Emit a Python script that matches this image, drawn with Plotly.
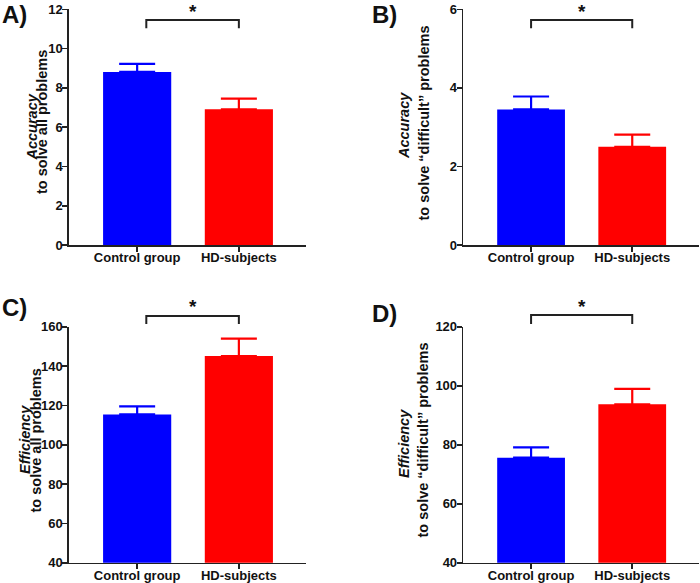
import plotly.graph_objects as go

# ---------------- data ----------------
categories = ["Control group", "HD-subjects"]
colors = ["#0000FF", "#FF0000"]

acc_all = [8.81, 6.91]
acc_all_sem = [0.41, 0.54]
acc_diff = [3.45, 2.50]
acc_diff_sem = [0.33, 0.31]
eff_all = [115.4, 145.1]
eff_all_sem = [4.1, 8.8]
eff_diff = [75.6, 93.7]
eff_diff_sem = [3.5, 5.2]

W, H = 700, 583
FONT = "Liberation Sans, Arial, sans-serif"
AX = "#222222"

panels = [
    dict(key="", vals=acc_all, sem=acc_all_sem, rng=[0, 12], dtick=2,
         xpx=[69, 306], ypx=[9.3, 245], label="A)", lab_xy=(14, 14.5),
         t1="<b><i>Accuracy</i></b>", t2="<b>to solve all problems</b>",
         t1xy=(31.5, 127), t2xy=(42, 122),
         br=dict(x0=0.09, x1=1.0, ytop=11.46, ybot=11.03), star_top=0),
    dict(key="2", vals=acc_diff, sem=acc_diff_sem, rng=[0, 6], dtick=2,
         xpx=[463.3, 699], ypx=[9.3, 245], label="B)", lab_xy=(384, 14.5),
         t1="<b><i>Accuracy</i></b>", t2="<b>to solve \u201cdifficult\u201d problems</b>",
         t1xy=(404, 126), t2xy=(423.5, 123),
         br=dict(x0=0.0, x1=1.0, ytop=5.73, ybot=5.52), star_top=0),
    dict(key="3", vals=eff_all, sem=eff_all_sem, rng=[40, 160], dtick=20,
         xpx=[69, 306], ypx=[326.7, 562.7], label="C)", lab_xy=(14, 307),
         t1="<b><i>Efficiency</i></b>", t2="<b>to solve all problems</b>",
         t1xy=(25, 440), t2xy=(35.5, 441),
         br=dict(x0=0.09, x1=1.0, ytop=165.4, ybot=161.4), star_top=295),
    dict(key="4", vals=eff_diff, sem=eff_diff_sem, rng=[40, 120], dtick=20,
         xpx=[463.3, 699], ypx=[326.7, 562.7], label="D)", lab_xy=(384, 313),
         t1="<b><i>Efficiency</i></b>", t2="<b>to solve \u201cdifficult\u201d problems</b>",
         t1xy=(404, 444), t2xy=(422.5, 440),
         br=dict(x0=0.0, x1=1.0, ytop=124.0, ybot=120.9), star_top=295),
]

XR = [-0.67, 1.66]

fig = go.Figure()
shapes = []
annotations = []


def px_x(p):
    return p / W


def px_y(p):
    return 1 - p / H


for p in panels:
    k = p["key"]
    xa = "x" + k
    ya = "y" + k
    xdom = [px_x(p["xpx"][0]), px_x(p["xpx"][1])]
    ydom = [px_y(p["ypx"][1]), px_y(p["ypx"][0])]
    for i, cat in enumerate(categories):
        fig.add_trace(go.Bar(
            x=[cat], y=[p["vals"][i]], xaxis=xa, yaxis=ya,
            marker=dict(color=colors[i], line=dict(width=0)),
            width=0.67,
            error_y=dict(type="data", array=[p["sem"][i]], arrayminus=[0],
                         symmetric=False, color=colors[i], thickness=2.2, width=18),
            showlegend=False, hoverinfo="skip",
        ))
    fig.layout["xaxis" + k] = dict(
        domain=xdom, anchor=ya, type="category", range=XR,
        categoryorder="array", categoryarray=categories,
        showline=True, linecolor=AX, linewidth=1.6, ticks="outside",
        ticklen=5, tickwidth=1.6, tickcolor=AX, showgrid=False, zeroline=False,
        tickfont=dict(family=FONT, size=13, color="#111", weight="bold"),
        ticklabelstandoff=-5, fixedrange=True, automargin=False,
    )
    fig.layout["yaxis" + k] = dict(
        domain=ydom, anchor=xa, range=p["rng"], dtick=p["dtick"], tick0=0,
        showline=True, linecolor=AX, linewidth=1.6, ticks="outside",
        ticklen=5, tickwidth=1.6, tickcolor=AX, showgrid=False, zeroline=False,
        tickfont=dict(family=FONT, size=13, color="#111", weight="bold"),
        ticklabelstandoff=-3, fixedrange=True, automargin=False,
    )

    def dx(v, xdom=xdom):
        return xdom[0] + (v - XR[0]) / (XR[1] - XR[0]) * (xdom[1] - xdom[0])

    def dy(v, ydom=ydom, rng=p["rng"]):
        return ydom[0] + (v - rng[0]) / (rng[1] - rng[0]) * (ydom[1] - ydom[0])

    br = p["br"]
    x0, x1 = dx(br["x0"]), dx(br["x1"])
    yt, yb = dy(br["ytop"]), dy(br["ybot"])
    shapes.append(dict(
        type="path", xref="paper", yref="paper",
        path=f"M {x0} {yb} L {x0} {yt} L {x1} {yt} L {x1} {yb}",
        line=dict(color=AX, width=2),
    ))
    annotations.append(dict(
        x=(x0 + x1) / 2, y=px_y(p["star_top"]), xref="paper", yref="paper",
        text="<b>*</b>", showarrow=False, xanchor="center", yanchor="top",
        borderpad=0, font=dict(family=FONT, size=19, color="#111"),
    ))
    annotations.append(dict(
        x=px_x(p["lab_xy"][0]), y=px_y(p["lab_xy"][1]), xref="paper", yref="paper",
        text="<b>" + p["label"] + "</b>", showarrow=False, xanchor="center",
        yanchor="middle", font=dict(family=FONT, size=24, color="#111"),
    ))
    for t, xy in ((p["t1"], p["t1xy"]), (p["t2"], p["t2xy"])):
        annotations.append(dict(
            x=px_x(xy[0]), y=px_y(xy[1]), xref="paper", yref="paper",
            text=t, showarrow=False, textangle=-90, xanchor="center",
            yanchor="middle", font=dict(family=FONT, size=14.5, color="#111"),
        ))

fig.update_layout(
    width=W, height=H, margin=dict(l=0, r=0, t=0, b=0, pad=0, autoexpand=False),
    paper_bgcolor="white", plot_bgcolor="white",
    barmode="overlay", shapes=shapes, annotations=annotations,
    font=dict(family=FONT, color="#111"), hovermode=False,
)

fig.write_html("out.html", config={"displayModeBar": False, "staticPlot": True},
               post_script="document.body.style.margin='0';")
